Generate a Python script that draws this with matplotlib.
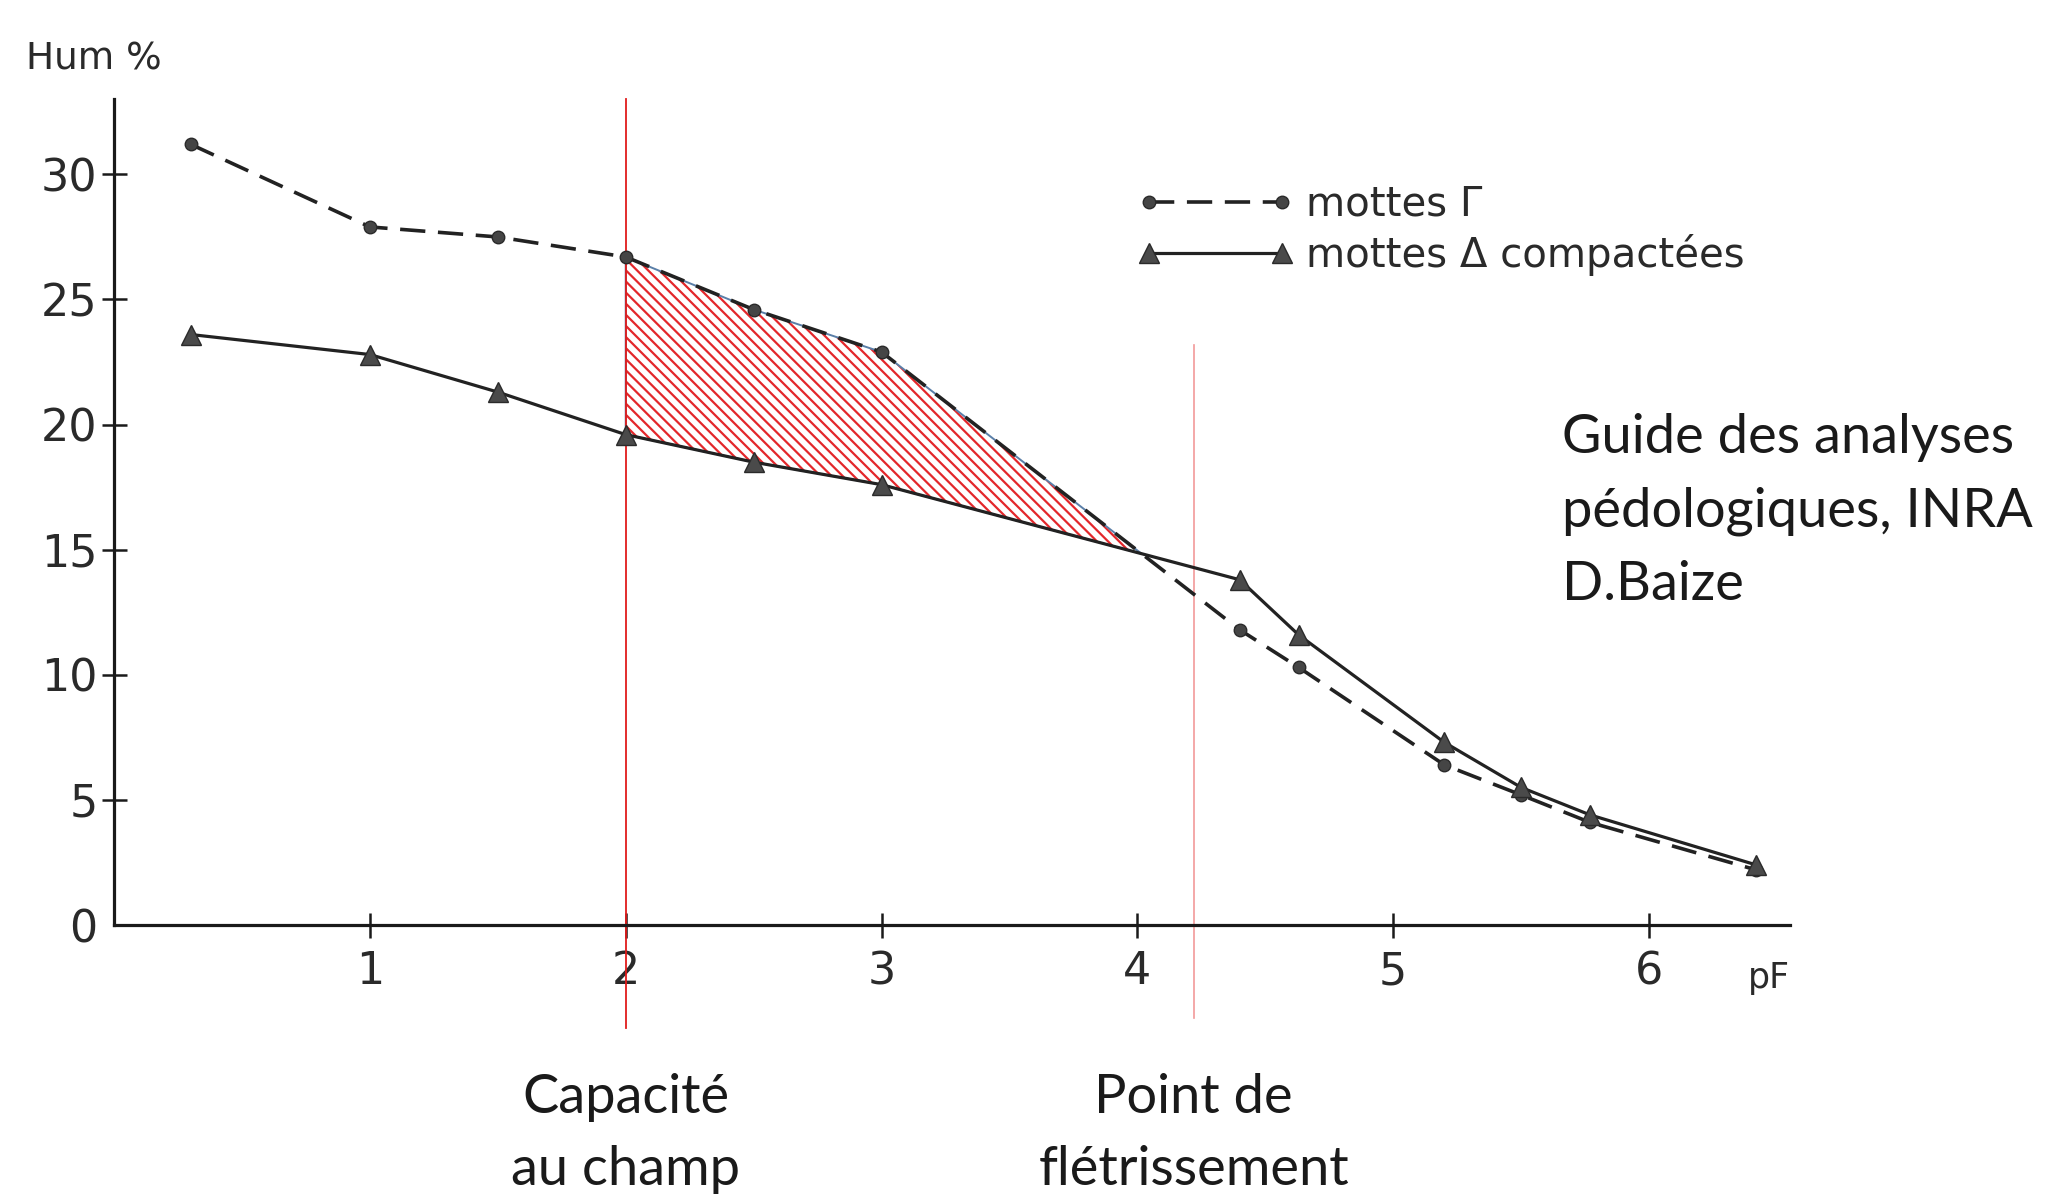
import matplotlib
matplotlib.use("Agg")
import matplotlib.pyplot as plt
import numpy as np

# data (pF vs humidity %)
pf = np.array([0.3, 1.0, 1.5, 2.0, 2.5, 3.0, 4.4, 4.63, 5.2, 5.5, 5.77, 6.42])
hum_gamma = np.array([31.2, 27.9, 27.5, 26.7, 24.6, 22.9, 11.8, 10.3, 6.4, 5.2, 4.1, 2.2])
hum_delta = np.array([23.6, 22.8, 21.3, 19.6, 18.5, 17.6, 13.8, 11.6, 7.3, 5.5, 4.4, 2.4])

x_ticks = [1, 2, 3, 4, 5, 6]
y_ticks = [0, 5, 10, 15, 20, 25, 30]

pf_capacite = 2.0
pf_fletrissement = 4.22

label_gamma = "mottes Γ"
label_delta = "mottes Δ compactées"
source_lines = ["Guide des analyses", "pédologiques, INRA", "D.Baize"]

plt.rcParams['hatch.linewidth'] = 1.6

fig = plt.figure(figsize=(20.57, 11.99), dpi=100)
ax = fig.add_axes([0, 0, 1, 1])
ax.set_xlim(-0.446, 7.595)
ax.set_ylim(-10.95, 36.97)

# axes drawn as crossed lines through the origin
for s in ['top', 'right']:
    ax.spines[s].set_visible(False)
ax.spines['left'].set_position(('data', 0))
ax.spines['bottom'].set_position(('data', 0))
ax.spines['left'].set_bounds(0, 33)
ax.spines['bottom'].set_bounds(0, 6.55)
for s in ['left', 'bottom']:
    ax.spines[s].set_linewidth(2.3)
    ax.spines[s].set_color('#1a1a1a')

ax.set_xticks(x_ticks)
ax.set_yticks(y_ticks)
ax.tick_params(direction='inout', length=18, width=1.8, colors='#1a1a1a',
               labelcolor='#2a2a2a', labelsize=32)
ax.tick_params(axis='x', pad=9)
ax.tick_params(axis='y', pad=3)
ax.yaxis.get_major_ticks()[0].tick1line.set_visible(False)
for t in ax.get_xticklabels() + ax.get_yticklabels():
    t.set_family('DejaVu Sans')

# hatched zone between the two curves, from field capacity to the crossing
sel = pf >= pf_capacite
sel[pf > 4.5] = False
ax.fill_between(pf[sel], hum_gamma[sel], hum_delta[sel], where=hum_gamma[sel] >= hum_delta[sel],
                interpolate=True, facecolor='none', edgecolor='#e3272b', linewidth=0,
                hatch='\\\\\\', zorder=1)
ax.fill_between(pf[sel], hum_gamma[sel], hum_delta[sel], where=hum_gamma[sel] >= hum_delta[sel],
                interpolate=True, facecolor='none', edgecolor='#5a7fa8', linewidth=1.4, zorder=1)

# red reference lines
ax.plot([pf_capacite, pf_capacite], [-4.1, 33.0], color='#e01b1b', lw=1.3, zorder=2)
ax.plot([pf_fletrissement, pf_fletrissement], [-3.7, 23.2], color='#f29a9a', lw=1.2, zorder=2)

ax.plot(pf, hum_gamma, color='#222222', lw=2.6, ls=(0, (7, 3.5)), marker='o', ms=9,
        mfc='#454545', mec='#2a2a2a', label=label_gamma, zorder=3)
ax.plot(pf, hum_delta, color='#222222', lw=2.3, ls='-', marker='^', ms=15,
        mfc='#4a4a4a', mec='#2a2a2a', label=label_delta, zorder=3)

ax.legend(loc='upper left', bbox_to_anchor=(0.535, 0.876), frameon=False, numpoints=2,
          handlelength=3.9, handletextpad=0.3, labelspacing=0.22,
          prop={'family': 'DejaVu Sans', 'size': 29}, labelcolor='#2a2a2a')

ax.text(-0.08, 34.6, "Hum %", fontsize=27, family='DejaVu Sans', color='#2a2a2a',
        ha='center', va='center')
ax.text(6.47, -2.1, "pF", fontsize=25, family='DejaVu Sans', color='#2a2a2a',
        ha='center', va='center')

src_y = [18.88, 15.94, 13.0]
for line, yy in zip(source_lines, src_y):
    ax.text(5.66, yy, line, fontsize=39, family='Lato', color='#1a1a1a',
            ha='left', va='baseline')

ax.text(pf_capacite, -7.5, "Capacité", fontsize=39, family='Lato', color='#1a1a1a',
        ha='center', va='baseline')
ax.text(pf_capacite, -10.4, "au champ", fontsize=39, family='Lato', color='#1a1a1a',
        ha='center', va='baseline')
ax.text(pf_fletrissement, -7.5, "Point de", fontsize=39, family='Lato', color='#1a1a1a',
        ha='center', va='baseline')
ax.text(pf_fletrissement, -10.4, "flétrissement", fontsize=39, family='Lato', color='#1a1a1a',
        ha='center', va='baseline')

fig.savefig("out.png", dpi=100, facecolor='white')
